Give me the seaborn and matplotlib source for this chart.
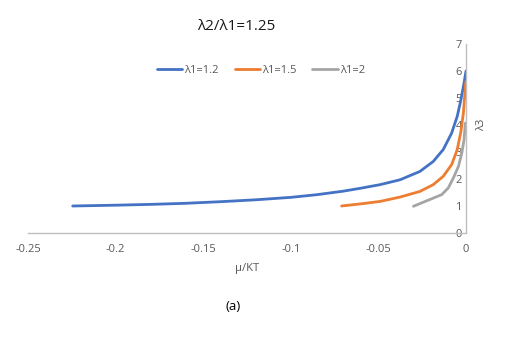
import matplotlib
matplotlib.use("Agg")
import matplotlib.pyplot as plt
import seaborn as sns
import pandas as pd
from matplotlib.lines import Line2D

series_names = ["λ1=1.2", "λ1=1.5", "λ1=2"]
blue_x = [-0.2245, -0.2, -0.18, -0.16, -0.14, -0.12, -0.1, -0.085, -0.07, -0.06, -0.0491,
          -0.0377, -0.0263, -0.0187, -0.0130, -0.0082, -0.0050, -0.0029, -0.0011, 0.0]
blue_y = [1.0, 1.03, 1.06, 1.1, 1.16, 1.23, 1.32, 1.42, 1.55, 1.66, 1.79,
          1.97, 2.28, 2.65, 3.09, 3.70, 4.32, 4.94, 5.56, 6.0]
orange_x = [-0.071, -0.06, -0.049, -0.0377, -0.0263, -0.0187, -0.013, -0.0082, -0.005,
            -0.0029, -0.0015, -0.0006, -0.0001]
orange_y = [1.0, 1.08, 1.17, 1.33, 1.54, 1.79, 2.1, 2.53, 3.09, 3.76, 4.44, 5.19, 5.6]
gray_x = [-0.030, -0.0139, -0.0101, -0.0072, -0.0043, -0.0024, -0.0011, -0.0004]
gray_y = [0.99, 1.42, 1.67, 2.04, 2.47, 2.96, 3.46, 4.07]
x_ticks = [-0.25, -0.2, -0.15, -0.1, -0.05, 0]
x_tick_labels = ["-0.25", "-0.2", "-0.15", "-0.1", "-0.05", "0"]
y_ticks = [0, 1, 2, 3, 4, 5, 6, 7]

colors = ["#4472C4", "#ED7D31", "#A5A5A5"]

rows = []
for name, xs, ys in zip(series_names, [blue_x, orange_x, gray_x], [blue_y, orange_y, gray_y]):
    for a, b in zip(xs, ys):
        rows.append({"series": name, "x": a, "y": b})
df = pd.DataFrame(rows)

sns.set_style("white")
plt.rcParams["font.family"] = ["Open Sans", "DejaVu Sans"]

fig = plt.figure(figsize=(5.10, 3.47), dpi=100)
ax = fig.add_axes([28/510, 1-233/347, (466-28)/510, (233-44)/347])

sns.lineplot(data=df, x="x", y="y", hue="series", palette=colors, sort=False,
             estimator=None, units="series", linewidth=2.0, ax=ax, legend=False)

ax.set_xlim(-0.25, 0)
ax.set_ylim(0, 7)
ax.set_xticks(x_ticks)
ax.set_xticklabels(x_tick_labels)
ax.set_yticks(y_ticks)
ax.spines["top"].set_visible(False)
ax.spines["right"].set_visible(False)
ax.spines["left"].set_position(("data", 0))
for s in ["left", "bottom"]:
    ax.spines[s].set_color("#BFBFBF")
    ax.spines[s].set_linewidth(1.0)
ax.tick_params(axis="both", length=0, labelsize=8, labelcolor="#595959")
ax.tick_params(axis="x", pad=8)
ax.tick_params(axis="y", pad=3)
ax.set_xlabel("")
ax.set_ylabel("")

fig.text(236/510, 1-26.5/347, "λ2/λ1=1.25", ha="center", va="center", fontsize=11, color="#1a1a1a")
fig.text(247/510, 1-269/347, "μ/KT", ha="center", va="center", fontsize=8, color="#595959")
fig.text(482/510, 1-125/347, "λ3", ha="center", va="center", fontsize=8, color="#595959", rotation=90)
fig.text(233/510, 1-307/347, "(a)", ha="center", va="center", fontsize=9.5, color="black")

handles = [Line2D([0], [0], color=c, lw=2.0) for c in colors]
fig.legend(handles, series_names, loc="center", bbox_to_anchor=(261/510, 1-70.5/347), ncol=3,
           frameon=False, fontsize=8, handlelength=2.3, handletextpad=0.2, columnspacing=1.4,
           labelcolor="#595959")

fig.savefig("out.png", dpi=100)
